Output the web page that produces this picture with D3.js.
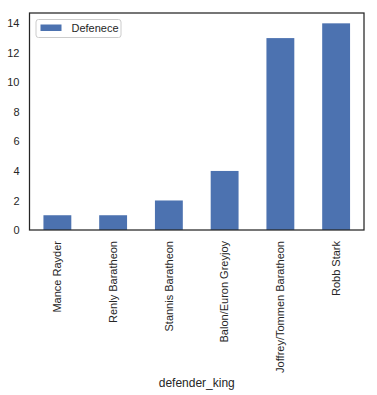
<!DOCTYPE html>
<html>
<head>
<meta charset="utf-8">
<script src="https://cdn.jsdelivr.net/npm/d3@7"></script>
<style>
  body { margin: 0; background: #fff; }
  text { font-family: "Liberation Sans", Arial, sans-serif; }
</style>
</head>
<body>
<div id="chart-container"></div>
<script>
// Dữ liệu
const kings = ["Mance Rayder", "Renly Baratheon", "Stannis Baratheon", "Balon/Euron Greyjoy", "Joffrey/Tommen Baratheon", "Robb Stark"];
const defence = [1, 1, 2, 4, 13, 14];
const yTicks = [0, 2, 4, 6, 8, 10, 12, 14];
const seriesName = "Defenece";
const xTitle = "defender_king";

const W = 377, H = 395;
const margin = { top: 13, right: 13, bottom: 165, left: 29.5 };
const width = W - margin.left - margin.right;
const height = H - margin.top - margin.bottom;

const svg = d3.select("#chart-container")
    .append("svg")
    .attr("width", W)
    .attr("height", H)
    .append("g")
    .attr("transform", `translate(${margin.left}, ${margin.top})`);

const data = kings.map((k, i) => ({ king: k, value: defence[i] }));

// Thang đo
const xScale = d3.scaleBand()
    .domain(kings)
    .range([0, width])
    .paddingInner(0.5)
    .paddingOuter(0.25);

const yScale = d3.scaleLinear()
    .domain([0, 14 * 1.05])
    .range([height, 0]);

// Cột
svg.selectAll(".bar")
    .data(data)
    .enter()
    .append("rect")
    .attr("class", "bar")
    .attr("x", (d) => xScale(d.king))
    .attr("y", (d) => yScale(d.value))
    .attr("width", xScale.bandwidth())
    .attr("height", (d) => height - yScale(d.value))
    .attr("fill", "#4C72B0");

// Trục y
const yAxis = svg.append("g")
    .call(d3.axisLeft(yScale).tickValues(yTicks).tickSize(0).tickPadding(10));
yAxis.select(".domain").remove();
yAxis.selectAll("text")
    .style("font-size", "11px")
    .attr("fill", "#262626");

// Trục x
const xAxis = svg.append("g")
    .attr("transform", `translate(0, ${height})`)
    .call(d3.axisBottom(xScale).tickSize(0));
xAxis.select(".domain").remove();
xAxis.selectAll("text")
    .attr("transform", "rotate(-90)")
    .style("text-anchor", "end")
    .style("font-size", "11px")
    .attr("fill", "#262626")
    .attr("x", -11)
    .attr("y", 0)
    .attr("dy", "0.35em");

// Khung
svg.append("rect")
    .attr("width", width)
    .attr("height", height)
    .attr("fill", "none")
    .attr("stroke", "#262626")
    .attr("stroke-width", 1.25);

// Nhãn trục x
svg.append("text")
    .attr("x", width / 2)
    .attr("y", height + 157)
    .attr("text-anchor", "middle")
    .style("font-size", "12px")
    .attr("fill", "#262626")
    .text(xTitle);

// Chú giải
const legend = svg.append("g").attr("transform", "translate(6.5, 6.5)");
legend.append("rect")
    .attr("width", 85)
    .attr("height", 18)
    .attr("rx", 2.5)
    .attr("fill", "#fff")
    .attr("fill-opacity", 0.8)
    .attr("stroke", "#cccccc")
    .attr("stroke-width", 1);
legend.append("rect")
    .attr("x", 4.5)
    .attr("y", 5)
    .attr("width", 21)
    .attr("height", 6.5)
    .attr("fill", "#4C72B0");
legend.append("text")
    .attr("x", 35.5)
    .attr("y", 9)
    .attr("dy", "0.35em")
    .style("font-size", "11px")
    .attr("fill", "#262626")
    .text(seriesName);
</script>
</body>
</html>
